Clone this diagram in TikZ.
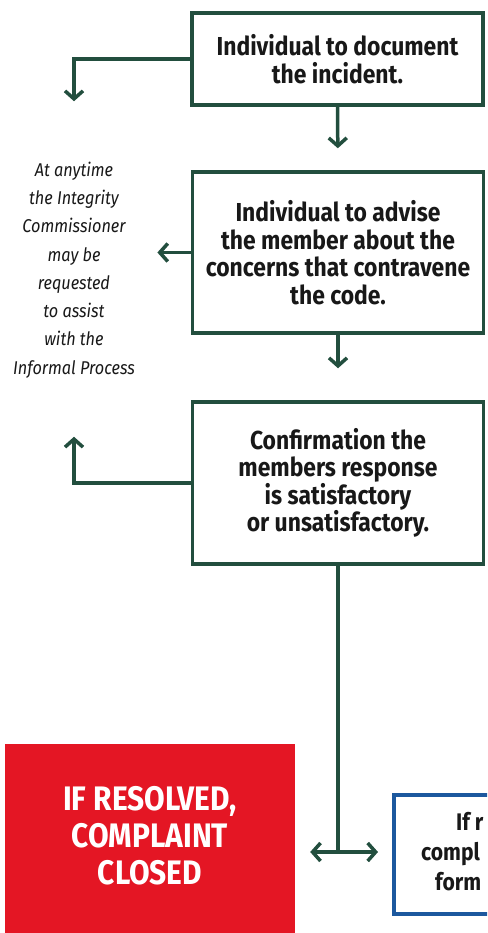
\documentclass[tikz,border=0pt]{standalone}
\usepackage{fontspec}
\setmainfont{Fira Sans}[FakeStretch=0.88]
\usetikzlibrary{arrows.meta,positioning,calc}
\definecolor{flowgreen}{RGB}{34,78,62}
\definecolor{closedred}{RGB}{228,22,36}
\definecolor{formalblue}{RGB}{28,88,158}
\definecolor{inkgray}{RGB}{24,24,24}

\begin{document}
\begin{tikzpicture}[x=1pt,y=-1pt,
    stepbox/.style={draw=flowgreen, line width=3.5pt, fill=white, minimum width=291pt, inner sep=0pt, align=center, text=inkgray, font=\bfseries\fontsize{26}{27.5}\selectfont},
    flow/.style={draw=flowgreen, line width=3.5pt, -{Straight Barb[length=8pt,width=18pt]}},
    flowboth/.style={draw=flowgreen, line width=3.5pt, {Straight Barb[length=8pt,width=18pt]}-{Straight Barb[length=8pt,width=18pt]}}]
    \useasboundingbox (0,0) rectangle (487,933);
    \clip (0,0) rectangle (487,933);

    % Steps of the informal process
    \node[stepbox, minimum height=92pt] (doc) at (337.5,59) {Individual to document\\the incident.};
    \node[stepbox, minimum height=161pt] (advise) at (338,252.5) {Individual to advise\\the member about the\\concerns that contravene\\the code.};
    \node[stepbox, minimum height=162pt] (confirm) at (338,483) {Confirmation the\\members response\\is satisfactory\\or unsatisfactory.};

    % Side note
    \node[align=center, text=inkgray, font=\itshape\fontsize{18.5}{28.3}\selectfont] (note) at (74,270) {At anytime\\the Integrity\\Commissioner\\may be\\requested\\to assist\\with the\\Informal Process};

    % Outcomes
    \node[fill=closedred, minimum width=290pt, minimum height=192pt, inner sep=0pt, text=white, align=center, font=\bfseries\fontsize{34}{37}\selectfont] (closed) at (150,840)
        {\raisebox{11pt}{\begin{tabular}{c}IF RESOLVED,\\COMPLAINT\\CLOSED\end{tabular}}};
    \node[draw=formalblue, line width=3.5pt, minimum width=200pt, minimum height=119pt, anchor=north west] (formal) at (392,793) {};
    \node[anchor=west, align=left, inner sep=0pt, text=inkgray, font=\bfseries\fontsize{24}{30}\selectfont] (formaltext) at (421,852) {\hspace{35pt}If r\\compl\\\hspace{14pt}form};

    % Connectors
    \draw[flow] (doc.west) -| ([yshift=57pt]note.north);
    \draw[flow, shorten >=22pt] (doc.south) -- (advise.north);
    \draw[flow] (advise.west) -- ([xshift=19pt]note.east |- advise.west);
    \draw[flow, shorten >=32pt] (advise.south) -- (confirm.north);
    \draw[flow] (confirm.west) -| ([yshift=-55pt]note.south);
    \coordinate (split) at (confirm.south |- 0,852);
    \draw[draw=flowgreen, line width=3.5pt] (confirm.south) -- (split);
    \draw[flowboth, shorten <=15pt, shorten >=14pt] (closed.east |- split) -- (formal.west |- split);
\end{tikzpicture}
\end{document}
